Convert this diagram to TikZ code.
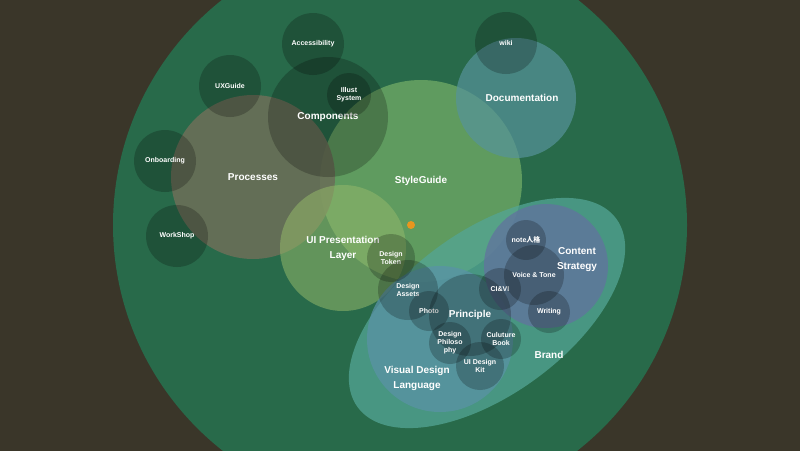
\documentclass[tikz,border=0pt]{standalone}
\usepackage{fontspec}
\setmainfont{Liberation Sans}
\newfontfamily\cjk{Noto Sans CJK JP}
\usetikzlibrary{shapes.geometric}

\definecolor{night}{HTML}{3A3629}
\definecolor{forest}{HTML}{286A4A}
\definecolor{leaf}{HTML}{84BC6D}
\definecolor{lagoon}{HTML}{56939A}
\definecolor{stone}{HTML}{6A6F58}
\definecolor{olive}{HTML}{93B86A}
\definecolor{sea}{HTML}{53A595}
\definecolor{sky}{HTML}{5A92A6}
\definecolor{slate}{HTML}{60759D}
\definecolor{amber}{HTML}{E8961E}

\tikzset{
    area/.style={circle, inner sep=0pt, text=white, align=center, text opacity=1,
        font=\bfseries\fontsize{10}{15}\selectfont},
    topic/.style={circle, inner sep=0pt, text=white, align=center, text opacity=1,
        fill=black, fill opacity=0.22, font=\bfseries\fontsize{7}{8}\selectfont},
    caption/.style={inner sep=0pt, text=white, align=center,
        font=\bfseries\fontsize{10}{15}\selectfont}
}

\begin{document}
\begin{tikzpicture}[x=1pt, y=-1pt]

    % Declare the frame
    \useasboundingbox (0, 0) rectangle (800, 450);
    \fill[night] (-5, -5) rectangle (805, 455);
    \node[circle, fill=forest, minimum size=574] at (400, 225) (World) {};

    % Declare the big areas
    \node[area, fill=leaf, fill opacity=0.6, minimum size=202] at (421, 181) (StyleGuide) {StyleGuide};
    \node[area, fill=lagoon, fill opacity=0.7, minimum size=120] at (516, 98) (Docs) {\hspace{12pt}Documentation};
    \node[area, fill=stone, fill opacity=0.9, minimum size=164] at (253, 177) (Processes) {Processes};

    % Declare the topics round the processes
    \node[topic, minimum size=62] at (313, 44) (Access) {Accessibility};
    \node[topic, minimum size=62] at (230, 86) (UXGuide) {UXGuide};
    \node[topic, minimum size=62] at (165, 161) (Onboard) {Onboarding};
    \node[topic, minimum size=62] at (177, 236) (Workshop) {WorkShop};
    \node[topic, minimum size=120, font=\bfseries\fontsize{10}{15}\selectfont] at (328, 117) (Components) {Components};
    \node[topic, minimum size=44] at (349, 95) (Illust) {Illust\\System};
    \node[topic, minimum size=62] at (506, 43) (Wiki) {wiki};

    % Declare the presentation layer and the brand
    \node[area, fill=olive, fill opacity=0.55, minimum size=126] at (343, 248) (UILayer) {UI Presentation\\Layer};
    \node[ellipse, fill=sea, fill opacity=0.75, inner sep=0pt,
        minimum width=320, minimum height=164, rotate=36] at (487, 313) (Brand) {};
    \node[circle, fill=sky, fill opacity=0.75, minimum size=146] at (440, 339) (VDL) {};
    \node[circle, fill=slate, fill opacity=0.8, minimum size=124] at (546, 266) (Content) {};

    % Declare the small topics
    \node[topic, minimum size=48] at (391, 258) (Token) {Design\\Token};
    \node[topic, minimum size=60] at (408, 290) (Assets) {Design\\Assets};
    \node[topic, minimum size=40] at (429, 311) (Photo) {Photo};
    \node[topic, minimum size=82, font=\bfseries\fontsize{10}{15}\selectfont] at (470, 315) (Principle) {Principle};
    \node[topic, minimum size=42] at (500, 289) (CIVI) {CI\&VI};
    \node[topic, minimum size=40] at (526, 240) (Note) {note{\cjk 人格}};
    \node[topic, minimum size=60] at (534, 275) (Voice) {Voice \& Tone};
    \node[topic, minimum size=42] at (549, 312) (Writing) {Writing};
    \node[topic, minimum size=42] at (450, 343) (Philosophy) {Design\\Philoso\\phy};
    \node[topic, minimum size=40] at (501, 339) (Culture) {Culuture\\Book};
    \node[topic, minimum size=48] at (480, 366) (Kit) {UI Design\\Kit};

    % Declare the captions
    \node[caption] at (417, 378) (VDLText) {Visual Design\\Language};
    \node[caption] at (577, 260) (ContentText) {Content\\Strategy};
    \node[caption] at (549, 355) (BrandText) {Brand};

    % Declare the marker
    \node[circle, fill=amber, inner sep=0pt, minimum size=8] at (411, 225) (Dot) {};

\end{tikzpicture}
\end{document}
